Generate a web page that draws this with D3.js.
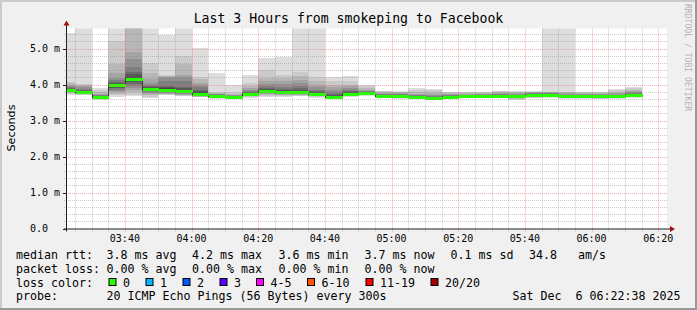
<!DOCTYPE html>
<html><head><meta charset="utf-8">
<script src="https://cdn.jsdelivr.net/npm/d3@7"></script>
<style>
html,body{margin:0;padding:0;background:#f0f0f0;}
svg{display:block;}
text{font-family:"DejaVu Sans Mono",monospace;fill:#000;white-space:pre;}
</style></head><body>
<svg id="c" width="697" height="310"></svg>
<script>
// ---------------- DATA ----------------
const title = "Last 3 Hours from smokeping to Facebook";
const startTime = "2025-12-06 03:22:38";
const endTime = "2025-12-06 06:22:38";
const stepSeconds = 300;
const stepStarts = ["03:20","03:25","03:30","03:35","03:40","03:45","03:50","03:55","04:00","04:05",
  "04:10","04:15","04:20","04:25","04:30","04:35","04:40","04:45","04:50","04:55",
  "05:00","05:05","05:10","05:15","05:20","05:25","05:30","05:35","05:40","05:45",
  "05:50","05:55","06:00","06:05","06:10"];
// median rtt per step (ms)
const medians = [3.85,3.79,3.65,3.98,4.16,3.875,3.86,3.82,3.745,3.69,
  3.66,3.74,3.82,3.79,3.79,3.74,3.66,3.74,3.76,3.69,
  3.69,3.65,3.63,3.66,3.67,3.67,3.69,3.68,3.72,3.72,
  3.67,3.67,3.67,3.67,3.71];
// 20 sorted ping rtts per step (ms)
const pings = [
  [3.72,3.74,3.76,3.78,3.80,3.81,3.82,3.83,3.84,3.85,3.85,3.86,3.88,3.90,3.93,3.96,4.00,4.04,4.08,5.43],
  [3.70,3.72,3.73,3.74,3.75,3.76,3.77,3.77,3.78,3.78,3.80,3.81,3.83,3.85,3.88,3.92,3.96,3.99,4.02,5.80],
  [3.57,3.59,3.60,3.61,3.62,3.63,3.63,3.64,3.64,3.65,3.65,3.66,3.67,3.68,3.70,3.72,3.75,3.80,3.84,3.91],
  [3.66,3.70,3.75,3.79,3.82,3.86,3.89,3.91,3.94,3.97,4.00,4.02,4.05,4.08,4.12,4.18,4.32,4.57,5.22,5.90],
  [3.68,3.72,3.78,3.84,3.90,3.96,4.01,4.06,4.10,4.14,4.18,4.22,4.28,4.36,4.49,4.70,4.89,5.70,5.90,6.00],
  [3.62,3.66,3.70,3.74,3.77,3.79,3.81,3.83,3.85,3.87,3.88,3.90,3.92,3.95,3.98,4.03,4.15,4.31,4.59,5.80],
  [3.70,3.71,3.73,3.75,3.77,3.78,3.80,3.82,3.84,3.85,3.87,3.90,3.93,3.96,4.10,4.20,4.22,4.24,4.26,5.37],
  [3.68,3.69,3.71,3.72,3.74,3.76,3.77,3.78,3.80,3.81,3.83,3.86,3.90,3.94,4.10,4.20,4.26,4.57,4.79,5.80],
  [3.64,3.65,3.66,3.67,3.68,3.69,3.70,3.71,3.72,3.73,3.76,3.79,3.82,3.86,3.92,3.98,4.05,4.15,4.20,5.01],
  [3.60,3.62,3.63,3.64,3.65,3.66,3.66,3.67,3.68,3.69,3.69,3.70,3.71,3.72,3.73,3.74,3.75,3.77,3.80,4.33],
  [3.62,3.63,3.63,3.64,3.64,3.65,3.65,3.65,3.66,3.66,3.66,3.67,3.67,3.68,3.69,3.70,3.72,3.74,3.78,3.99],
  [3.63,3.65,3.67,3.68,3.70,3.71,3.72,3.72,3.73,3.74,3.74,3.75,3.77,3.79,3.82,3.86,3.90,3.96,4.03,4.26],
  [3.66,3.69,3.72,3.74,3.76,3.77,3.78,3.79,3.80,3.81,3.83,3.85,3.88,3.91,3.96,4.02,4.09,4.17,4.40,4.75],
  [3.66,3.68,3.70,3.72,3.73,3.74,3.75,3.76,3.77,3.78,3.80,3.82,3.85,3.88,3.94,4.02,4.10,4.18,4.26,4.77],
  [3.68,3.69,3.71,3.72,3.73,3.74,3.75,3.76,3.77,3.78,3.80,3.82,3.85,3.89,3.95,4.03,4.12,4.25,4.36,5.80],
  [3.63,3.65,3.67,3.69,3.70,3.71,3.72,3.72,3.73,3.74,3.74,3.76,3.78,3.81,3.85,3.92,4.00,4.10,4.22,5.80],
  [3.60,3.61,3.62,3.63,3.63,3.64,3.64,3.65,3.65,3.66,3.66,3.68,3.70,3.73,3.78,3.85,3.92,4.00,4.10,4.22],
  [3.66,3.67,3.68,3.69,3.70,3.71,3.72,3.72,3.73,3.74,3.74,3.76,3.78,3.81,3.85,3.90,3.95,4.00,4.10,4.24],
  [3.69,3.70,3.71,3.72,3.73,3.74,3.74,3.75,3.75,3.76,3.76,3.77,3.78,3.79,3.81,3.83,3.86,3.90,3.95,3.99],
  [3.62,3.64,3.65,3.66,3.67,3.67,3.68,3.68,3.69,3.69,3.69,3.70,3.71,3.72,3.73,3.75,3.77,3.79,3.81,3.83],
  [3.60,3.62,3.64,3.66,3.67,3.67,3.68,3.68,3.69,3.69,3.69,3.70,3.71,3.72,3.73,3.74,3.76,3.78,3.80,3.82],
  [3.60,3.61,3.62,3.63,3.63,3.64,3.64,3.64,3.65,3.65,3.65,3.66,3.67,3.68,3.70,3.72,3.75,3.80,3.85,3.89],
  [3.57,3.59,3.60,3.61,3.61,3.62,3.62,3.62,3.63,3.63,3.63,3.64,3.65,3.66,3.68,3.70,3.74,3.79,3.84,3.88],
  [3.62,3.63,3.63,3.64,3.64,3.65,3.65,3.65,3.66,3.66,3.66,3.67,3.68,3.69,3.70,3.72,3.74,3.76,3.78,3.80],
  [3.62,3.63,3.64,3.64,3.65,3.65,3.66,3.66,3.67,3.67,3.67,3.68,3.69,3.70,3.71,3.72,3.74,3.76,3.78,3.80],
  [3.62,3.63,3.64,3.65,3.65,3.66,3.66,3.66,3.67,3.67,3.67,3.68,3.69,3.70,3.72,3.73,3.75,3.77,3.79,3.80],
  [3.62,3.63,3.64,3.65,3.66,3.67,3.68,3.68,3.69,3.69,3.69,3.70,3.71,3.72,3.73,3.75,3.77,3.79,3.81,3.83],
  [3.57,3.59,3.61,3.63,3.64,3.65,3.66,3.67,3.67,3.68,3.68,3.69,3.70,3.71,3.72,3.74,3.76,3.78,3.80,3.82],
  [3.62,3.63,3.65,3.66,3.67,3.68,3.69,3.70,3.71,3.72,3.72,3.73,3.74,3.75,3.76,3.77,3.78,3.79,3.80,3.82],
  [3.63,3.65,3.66,3.67,3.68,3.69,3.70,3.71,3.71,3.72,3.72,3.73,3.74,3.75,3.76,3.77,3.78,3.79,3.80,5.80],
  [3.60,3.62,3.63,3.64,3.65,3.65,3.66,3.66,3.67,3.67,3.67,3.68,3.69,3.70,3.72,3.74,3.76,3.78,3.80,5.80],
  [3.60,3.62,3.63,3.64,3.65,3.65,3.66,3.66,3.67,3.67,3.67,3.68,3.69,3.70,3.72,3.73,3.75,3.77,3.79,3.80],
  [3.60,3.61,3.63,3.64,3.65,3.65,3.66,3.66,3.67,3.67,3.67,3.68,3.69,3.70,3.71,3.73,3.75,3.77,3.79,3.80],
  [3.60,3.62,3.63,3.64,3.65,3.65,3.66,3.66,3.67,3.67,3.67,3.68,3.69,3.70,3.72,3.74,3.76,3.80,3.84,3.88],
  [3.63,3.64,3.66,3.67,3.68,3.69,3.69,3.70,3.70,3.71,3.71,3.72,3.73,3.74,3.76,3.78,3.81,3.85,3.89,3.93]
];
const yMax = 5.556;
const yTickValues = [0,1,2,3,4,5];
const yTickLabels = ["0.0","1.0 m","2.0 m","3.0 m","4.0 m","5.0 m"];
const xTickLabels = ["03:40","04:00","04:20","04:40","05:00","05:20","05:40","06:00","06:20"];
const yAxisTitle = "Seconds";
const rttStats = ["3.8","4.2","3.6","3.7"];
const rttKinds = ["avg","max","min","now"];
const rttSd = "0.1";
const rttAms = "34.8";
const lossStats = ["0.00","0.00","0.00","0.00"];
const lossKinds = ["avg","max","min","now"];
const lossLabels = ["0","1","2","3","4-5","6-10","11-19","20/20"];
const probeText = "20 ICMP Echo Pings (56 Bytes) every 300s";
const dateText = "Sat Dec  6 06:22:38 2025";
const watermark = "RRDTOOL / TOBI OETIKER";

// ---------------- STYLE ----------------
const lossColors = ["#26ff00","#00b8ff","#0059ff","#5e00ff","#ff00ff","#ff5500","#ff0000","#a00000"];
const smokeGrays = ["#dddddd","#cacaca","#b7b7b7","#a4a4a4","#919191","#7e7e7e","#6b6b6b","#585858","#454545","#323232"];
const P = {left:67, right:667, top:28.5, bottom:228.5};

// ---------------- DRAW ----------------
const svg = d3.select("#c");
const parse = d3.utcParse("%Y-%m-%d %H:%M:%S");
const t0 = parse(startTime), t1 = parse(endTime);
const day = startTime.slice(0,10);
const stepDate = s => parse(day + " " + s + ":00");
const x = d3.scaleUtc().domain([t0,t1]).range([P.left,P.right]);
const y = d3.scaleLinear().domain([0,yMax]).range([P.bottom,P.top]);

// frame
svg.append("rect").attr("width",697).attr("height",310).attr("fill","#f0f0f0");
svg.append("rect").attr("x",0).attr("y",0).attr("width",697).attr("height",2).attr("fill","#cbcbcb");
svg.append("rect").attr("x",0).attr("y",0).attr("width",2).attr("height",310).attr("fill","#cbcbcb");
svg.append("rect").attr("x",0).attr("y",308).attr("width",697).attr("height",2).attr("fill","#999999");
svg.append("rect").attr("x",695).attr("y",0).attr("width",2).attr("height",310).attr("fill","#999999");

// canvas
svg.append("rect").attr("x",P.left).attr("y",P.top).attr("width",P.right-P.left).attr("height",P.bottom-P.top).attr("fill","#ffffff");

svg.append("clipPath").attr("id","clip").append("rect")
  .attr("x",P.left).attr("y",P.top).attr("width",P.right-P.left).attr("height",P.bottom-P.top);
const plot = svg.append("g").attr("clip-path","url(#clip)");

const steps = stepStarts.map((s,i)=>{
  const a = stepDate(s);
  return {a, b:new Date(a.getTime()+stepSeconds*1000), p:pings[i], m:medians[i]};
});

// smoke bands
for (let k=0;k<10;k++){
  plot.append("g").selectAll("rect").data(steps).join("rect")
    .attr("x",d=>Math.round(x(d.a)))
    .attr("width",d=>Math.round(x(d.b))-Math.round(x(d.a)))
    .attr("y",d=>y(d.p[19-k]))
    .attr("height",d=>y(d.p[k])-y(d.p[19-k]))
    .attr("fill",smokeGrays[k])
    .attr("shape-rendering","crispEdges");
}
// median line (dark)
const linePts = [];
steps.forEach(d=>{linePts.push([x(d.a),d.m]);linePts.push([x(d.b),d.m]);});
plot.append("path")
  .attr("d",d3.line().x(d=>Math.round(d[0])+0.5).y(d=>Math.round(y(d[1]))+0.5)(linePts))
  .attr("fill","none").attr("stroke","#202020").attr("stroke-width",1).attr("shape-rendering","crispEdges");
// loss-colored median band
plot.append("g").selectAll("rect").data(steps).join("rect")
  .attr("x",d=>Math.round(x(d.a))+1)
  .attr("width",d=>Math.round(x(d.b))-Math.round(x(d.a)))
  .attr("y",d=>Math.round(y(d.m))-1)
  .attr("height",3)
  .attr("fill",lossColors[0])
  .attr("shape-rendering","crispEdges");

// grid
const grid = svg.append("g");
const minorY = d3.range(0, yMax+0.001, 0.2).filter(v=>Math.abs(v-Math.round(v))>0.01);
grid.selectAll(".hy").data(minorY).join("line")
  .attr("x1",P.left-3).attr("x2",P.right)
  .attr("y1",d=>Math.round(y(d))+0.5).attr("y2",d=>Math.round(y(d))+0.5)
  .attr("stroke","rgba(140,140,140,0.45)").attr("stroke-dasharray","1,1");
const minorX = d3.utcMinute.every(5).range(t0,t1).filter(t=>t.getUTCMinutes()%20!==0);
grid.selectAll(".vx").data(minorX).join("line")
  .attr("y1",P.top).attr("y2",P.bottom+3)
  .attr("x1",d=>Math.round(x(d))+0.5).attr("x2",d=>Math.round(x(d))+0.5)
  .attr("stroke","rgba(140,140,140,0.45)").attr("stroke-dasharray","1,1");
grid.selectAll(".my").data(yTickValues.filter(v=>v>0)).join("line")
  .attr("x1",P.left-3).attr("x2",P.right)
  .attr("y1",d=>Math.round(y(d))+0.5).attr("y2",d=>Math.round(y(d))+0.5)
  .attr("stroke","rgba(240,100,100,0.55)").attr("stroke-dasharray","1,1");
const majorX = xTickLabels.map(s=>stepDate(s));
grid.selectAll(".mx").data(majorX).join("line")
  .attr("y1",P.top).attr("y2",P.bottom+3)
  .attr("x1",d=>Math.round(x(d))+0.5).attr("x2",d=>Math.round(x(d))+0.5)
  .attr("stroke","rgba(240,100,100,0.55)").attr("stroke-dasharray","1,1");

// axes
const axisCol = "#202020", arrowCol = "#a01010";
svg.append("line").attr("x1",P.left-3).attr("x2",P.right+4).attr("y1",P.bottom+0.5).attr("y2",P.bottom+0.5).attr("stroke",axisCol);
svg.append("path").attr("d",`M${P.right+3},${P.bottom-2.5}L${P.right+8},${P.bottom+0.5}L${P.right+3},${P.bottom+3.5}Z`).attr("fill",arrowCol);
svg.append("line").attr("x1",P.left-0.5).attr("x2",P.left-0.5).attr("y1",P.bottom+3).attr("y2",P.top-4).attr("stroke",axisCol);
svg.append("path").attr("d",`M${P.left-3.5},${P.top-3}L${P.left-0.5},${P.top-8}L${P.left+2.5},${P.top-3}Z`).attr("fill",arrowCol);
svg.selectAll(".yt").data(yTickValues).join("line")
  .attr("x1",P.left-4).attr("x2",P.left).attr("y1",d=>Math.round(y(d))+0.5).attr("y2",d=>Math.round(y(d))+0.5)
  .attr("stroke",axisCol);

// axis labels
svg.selectAll(".yl").data(yTickValues).join("text")
  .attr("x",30).attr("y",d=>y(d)+3.8)
  .style("font-size","10px").text((d,i)=>yTickLabels[i]);
svg.selectAll(".xl").data(majorX).join("text")
  .attr("x",d=>x(d)).attr("y",242).attr("text-anchor","middle")
  .style("font-size","10px").text((d,i)=>xTickLabels[i]);
svg.append("text").attr("transform","translate(15,128) rotate(-90)").attr("text-anchor","middle")
  .style("font-family","'DejaVu Sans',sans-serif").style("font-size","11.2px").text(yAxisTitle);

// title
svg.append("text").attr("x",348.5).attr("y",23).attr("text-anchor","middle").style("font-size","13.2px").text(title);
// watermark
svg.append("text").attr("transform","translate(685,4) rotate(90)").style("font-size","8.1px").style("fill","#b4b4b4").text(watermark);

// legend
const fs = "11.63px";
const L = svg.append("g").style("font-size",fs);
const row = [259,272.5,286.5,300];
const statX = [106.5,192,278.5,364.5];
L.append("text").attr("x",16).attr("y",row[0]).text("median rtt:");
rttStats.forEach((v,i)=>L.append("text").attr("x",statX[i]).attr("y",row[0]).text(`${v} ms ${rttKinds[i]}`));
L.append("text").attr("x",450.5).attr("y",row[0]).text(`${rttSd} ms sd`);
L.append("text").attr("x",529).attr("y",row[0]).text(`${rttAms}   am/s`);
L.append("text").attr("x",16).attr("y",row[1]).text("packet loss:");
lossStats.forEach((v,i)=>L.append("text").attr("x",statX[i]).attr("y",row[1]).text(`${v} % ${lossKinds[i]}`));
L.append("text").attr("x",16).attr("y",row[2]).text("loss color:");
const boxX = [108.5,145.5,182.5,219.5,256,307,365.5,430.5];
lossLabels.forEach((lab,i)=>{
  L.append("rect").attr("x",boxX[i]+0.5).attr("y",278.5).attr("width",7).attr("height",7)
    .attr("fill",lossColors[i]).attr("stroke","#000").attr("stroke-width",1);
  L.append("text").attr("x",boxX[i]+14.5).attr("y",row[2]).text(lab);
});
L.append("text").attr("x",16).attr("y",row[3]).text("probe:");
L.append("text").attr("x",106.5).attr("y",row[3]).text(probeText);
L.append("text").attr("x",512.5).attr("y",row[3]).text(dateText);
</script>
</body></html>
